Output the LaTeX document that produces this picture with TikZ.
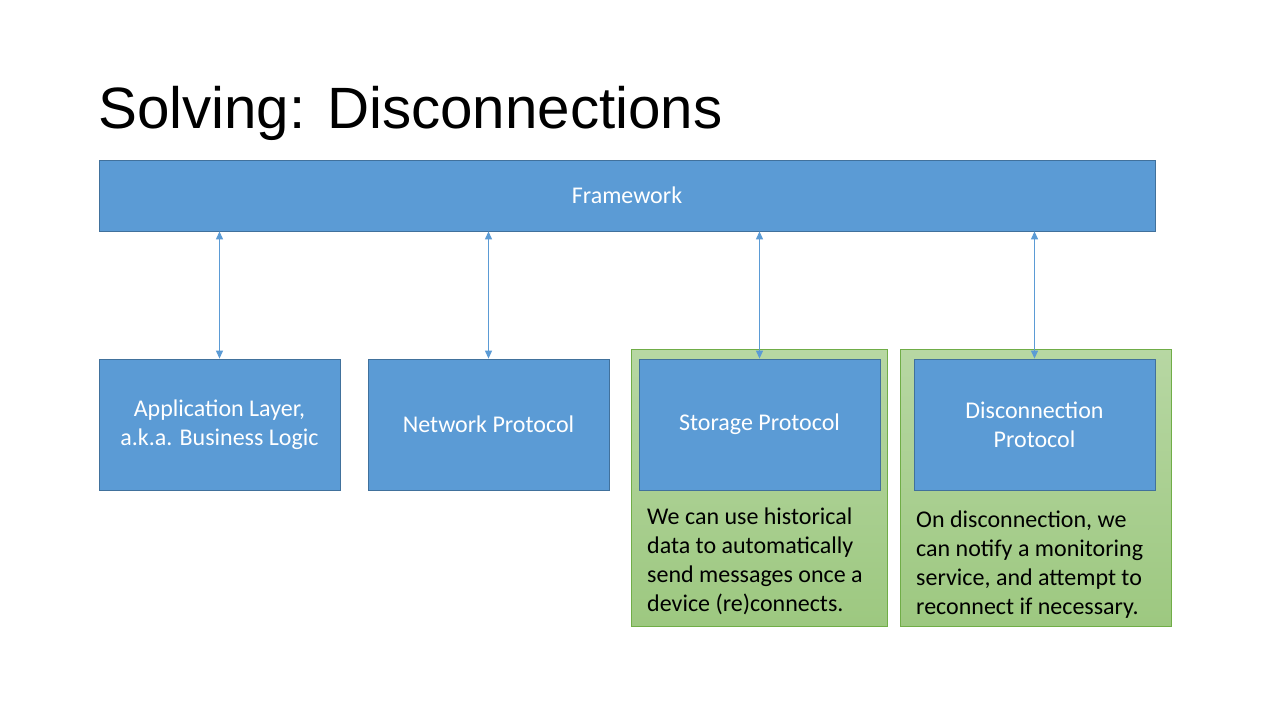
\documentclass[tikz,border=0pt]{standalone}
\usepackage{fontspec}
\setmainfont{Carlito}
\newfontfamily\titlefont{Liberation Sans}
\usetikzlibrary{arrows.meta}
\definecolor{boxblue}{HTML}{5B9BD5}
\definecolor{boxedge}{HTML}{41719C}
\definecolor{greentop}{HTML}{B7D7A3}
\definecolor{greenbot}{HTML}{9DC880}
\definecolor{greenedge}{HTML}{70AD47}
\tikzset{
  bluebox/.style={draw=boxedge, fill=boxblue, line width=0.8pt, text=white,
    font=\fontsize{24}{29}\selectfont, align=center, inner sep=0pt},
  greenbox/.style={draw=greenedge, top color=greentop, bottom color=greenbot, line width=0.8pt},
  note/.style={font=\fontsize{24}{29}\selectfont, align=left, inner sep=0pt, text=black, anchor=base west},
  link/.style={draw=boxblue, line width=1.1pt, {Triangle[length=8pt,width=7pt]}-{Triangle[length=8pt,width=7pt]}}
}
\begin{document}
\begin{tikzpicture}[x=1pt,y=-1pt]
\useasboundingbox (0,0) rectangle (1280,720);
\fill[white] (0,0) rectangle (1280,720);
\node[anchor=base west, inner sep=0pt, font=\titlefont\fontsize{58.3}{60}\selectfont] (title) at (98,128) {Solving: Disconnections};
% green panels
\path[greenbox] (631,349) rectangle (887,626);
\path[greenbox] (900,349) rectangle (1171,626);
% framework
\node[bluebox, minimum width=1056pt, minimum height=71pt] (fw) at (627,195.5) {Framework};
\node[bluebox, minimum width=241pt, minimum height=131pt] (app) at (219.5,424.5) {Application Layer,\\a.k.a. Business Logic};
\node[bluebox, minimum width=241pt, minimum height=131pt] (net) at (488.5,424.5) {Network Protocol};
\node[bluebox, minimum width=241pt, minimum height=131pt] (sto) at (759.5,424.5) {Storage Protocol};
\node[bluebox, minimum width=241pt, minimum height=131pt] (dis) at (1034.5,424.5) {Disconnection\\Protocol};
\draw[link] (fw.south -| app.north) -- (app.north);
\draw[link] (fw.south -| net.north) -- (net.north);
\draw[link] (fw.south -| sto.north) -- (sto.north);
\draw[link] (fw.south -| dis.north) -- (dis.north);
\node[note] (n1) at (647,611) {We can use historical\\data to automatically\\send messages once a\\device (re)connects.};
\node[note] (n2) at (916,614) {On disconnection, we\\can notify a monitoring\\service, and attempt to\\reconnect if necessary.};
\end{tikzpicture}
\end{document}
